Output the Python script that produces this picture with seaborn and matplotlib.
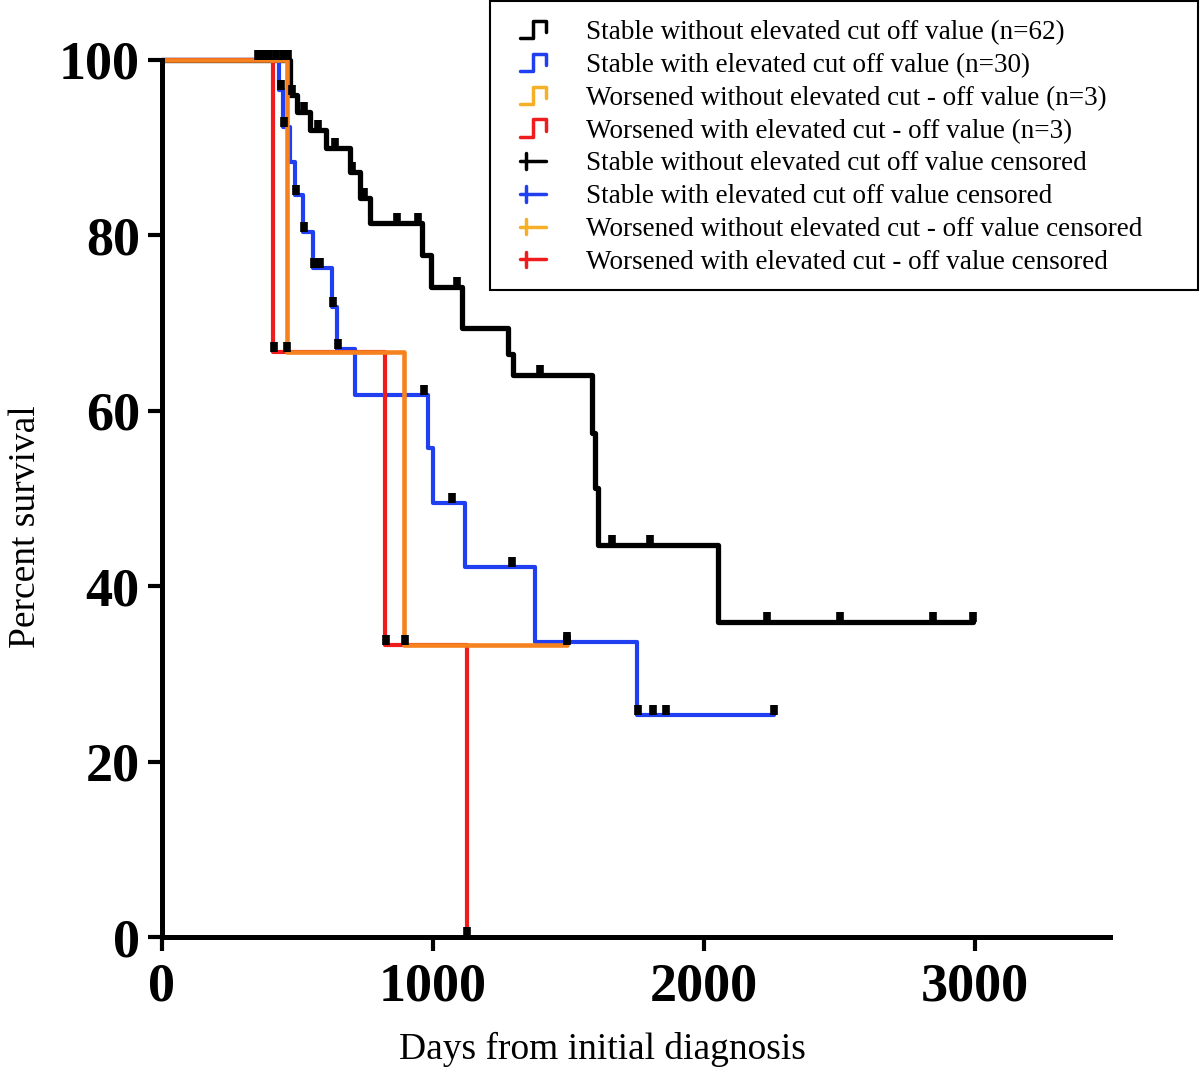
import numpy as np
import matplotlib
matplotlib.use('Agg')
import matplotlib.pyplot as plt
import seaborn as sns
from matplotlib.lines import Line2D
from matplotlib.patches import Rectangle
from matplotlib.legend_handler import HandlerBase

# Kaplan-Meier steps (days, percent survival)
stable_no_t = [0, 472, 498, 546, 605, 694, 731, 768, 960, 992, 1107, 1277, 1295, 1587, 1598, 1609, 2052, 2993]
stable_no_s = [100, 96.0, 94.1, 92.0, 90.0, 87.2, 84.3, 81.4, 77.8, 74.1, 69.4, 66.5, 64.1, 57.5, 51.2, 44.7, 35.9, 35.9]
stable_no_cens = [355, 375, 395, 420, 445, 465, 480, 525, 575, 640, 700, 745, 867, 945, 1089,
                  1395, 1661, 1801, 2232, 2502, 2845, 2993]

stable_hi_t = [0, 432, 445, 472, 491, 520, 557, 627, 646, 712, 982, 1000, 1118, 1376, 1753, 2258]
stable_hi_s = [100, 96.6, 92.4, 88.4, 84.6, 80.4, 76.3, 71.8, 67.0, 61.8, 55.8, 49.5, 42.2, 33.6, 25.3, 25.3]
stable_hi_cens = [440, 452, 495, 525, 562, 585, 630, 650, 968, 1070, 1292, 1494, 1757, 1812, 1860, 2258]

worse_no_t = [0, 461, 893, 1494]
worse_no_s = [100, 66.7, 33.3, 33.3]
worse_no_cens = [463, 896, 1494]

worse_hi_t = [0, 410, 823, 1125]
worse_hi_s = [100, 66.7, 33.3, 0]
worse_hi_cens = [413, 826, 1127]

labels = ["Stable without elevated cut off value (n=62)",
          "Stable with elevated cut off value (n=30)",
          "Worsened without elevated cut - off value (n=3)",
          "Worsened with elevated cut - off value (n=3)",
          "Stable without elevated cut off value censored",
          "Stable with elevated cut off value censored",
          "Worsened without elevated cut - off value censored",
          "Worsened with elevated cut - off value censored"]

BLUE = '#1f3ff0'
ORANGE = '#f5821f'
GOLD = '#f5b027'
RED = '#ee1c1c'


def surv_at(t, s, when):
    idx = np.searchsorted(t, when, side='right') - 1
    return np.asarray(s)[idx]


class StepIcon(HandlerBase):
    def create_artists(self, legend, orig, xd, yd, w, h, fontsize, trans):
        xs = np.array([0, 0.5, 0.5, 1, 1]) * w - xd
        ys = np.array([0.0, 0.0, 1.0, 1.0, 0.35]) * h - yd
        return [Line2D(xs, ys, color=orig.get_color(), lw=2.5, transform=trans)]


class CensIcon(HandlerBase):
    def create_artists(self, legend, orig, xd, yd, w, h, fontsize, trans):
        ln = Line2D([-xd, w - xd], [h / 2 - yd] * 2, color=orig.get_color(), lw=2.5, transform=trans)
        tk = Line2D([0.25 * w - xd] * 2, [0.05 * h - yd, 0.95 * h - yd], color=orig.get_color(),
                    lw=2.5, transform=trans)
        return [ln, tk]


sns.set_style('ticks')
plt.rcParams['font.family'] = ['Liberation Serif', 'DejaVu Serif']
plt.rcParams['text.color'] = 'black'
plt.rcParams['axes.labelcolor'] = 'black'
plt.rcParams['xtick.color'] = 'black'
plt.rcParams['ytick.color'] = 'black'

fig = plt.figure(figsize=(12, 10.71), dpi=100)
ax = fig.add_axes([0.135, 0.1251, 0.79, 0.8189])

curves = [(stable_no_t, stable_no_s, stable_no_cens, 'black', 3.8),
          (stable_hi_t, stable_hi_s, stable_hi_cens, BLUE, 3.0),
          (worse_hi_t, worse_hi_s, worse_hi_cens, RED, 3.0),
          (worse_no_t, worse_no_s, worse_no_cens, ORANGE, 3.3)]

for t, s, c, col, lw in curves:
    sns.lineplot(x=t, y=s, ax=ax, color=col, lw=lw, drawstyle='steps-post',
                 estimator=None, sort=False, clip_on=False)

# censor ticks (all black in the original)
for t, s, c, col, lw in curves:
    ax.plot(c, surv_at(t, s, c), ls='none', marker=[(0, 0), (0, 1)], ms=15, mew=5.5,
            color='black', clip_on=False, zorder=5)

ax.set_xlim(0, 3500)
ax.set_ylim(0, 100)
ax.set_xticks([0, 1000, 2000, 3000])
ax.set_yticks([0, 20, 40, 60, 80, 100])
sns.despine(ax=ax)
for sp in ['left', 'bottom']:
    ax.spines[sp].set_linewidth(3.6)
    ax.spines[sp].set_color('black')
ax.tick_params(axis='both', width=3, length=10, labelsize=39, color='black', labelcolor='black')
ax.tick_params(axis='y', pad=6)
ax.tick_params(axis='x', pad=8)
for lbl in ax.get_xticklabels() + ax.get_yticklabels():
    lbl.set_fontweight('bold')

ax.set_xlabel('Days from initial diagnosis', fontsize=27, color='black')
ax.set_ylabel('Percent survival', fontsize=27, color='black')
ax.xaxis.set_label_coords(0.465, -0.108)
ax.yaxis.set_label_coords(-0.125, 0.4675)

step_h = [Line2D([], [], color=c) for c in ['black', BLUE, GOLD, RED]]
cens_h = [Line2D([], [], color=c) for c in ['black', BLUE, GOLD, RED]]
hmap = {h: StepIcon() for h in step_h}
hmap.update({h: CensIcon() for h in cens_h})
leg = ax.legend(step_h + cens_h, labels, handler_map=hmap, loc='upper left',
                bbox_to_anchor=(520 / 1200, 1 - 20 / 1071), bbox_transform=fig.transFigure,
                frameon=False, fontsize=19.5, handlelength=0.95, handleheight=0.6,
                handletextpad=1.5, labelspacing=0.29, borderpad=0, borderaxespad=0)
for txt in leg.get_texts():
    txt.set_color('black')

# legend box as drawn in the original
fig.patches.append(Rectangle((490 / 1200, 1 - 290 / 1071), 708 / 1200, 289 / 1071,
                             transform=fig.transFigure, fill=False, ec='black', lw=1.5))

fig.savefig('out.png', dpi=100)
